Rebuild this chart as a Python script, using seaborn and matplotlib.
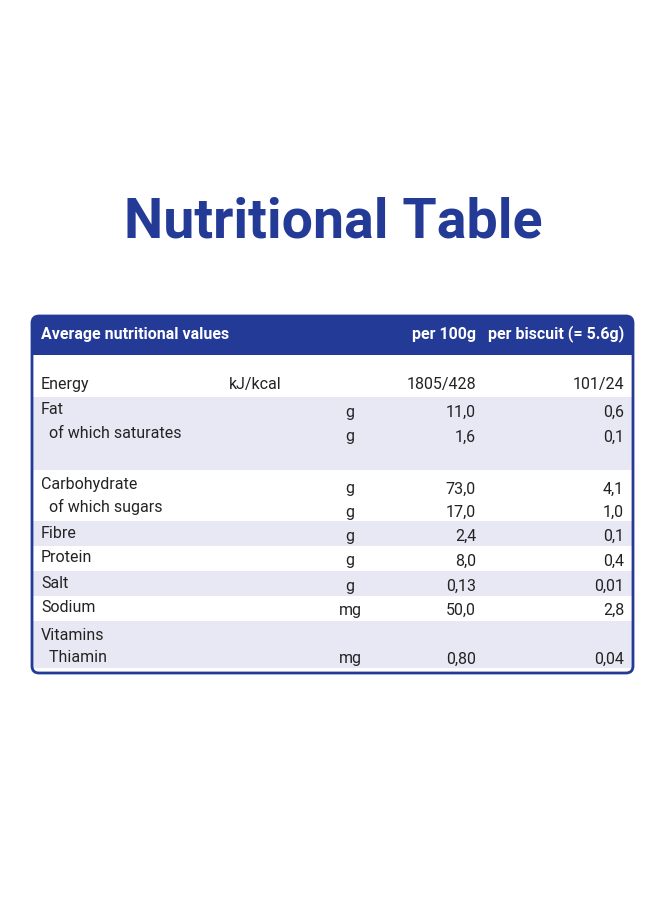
import matplotlib
matplotlib.use("Agg")
import matplotlib.pyplot as plt
from matplotlib import font_manager
from matplotlib.patches import FancyBboxPatch, Rectangle
import seaborn as sns

sns.set_theme(style="white")

names = {f.name for f in font_manager.fontManager.ttflist}
FONT = "Liberation Sans Narrow" if "Liberation Sans Narrow" in names else "Roboto"

labels = ["Energy", "Fat", "  of which saturates", "Carbohydrate", "  of which sugars",
          "Fibre", "Protein", "Salt", "Sodium", "Vitamins", "  Thiamin"]
units = ["kJ/kcal", "g", "g", "g", "g", "g", "g", "g", "mg", "", "mg"]
per_100g = ["1805/428", "11,0", "1,6", "73,0", "17,0", "2,4", "8,0", "0,13", "50,0", "", "0,80"]
per_biscuit = ["101/24", "0,6", "0,1", "4,1", "1,0", "0,1", "0,4", "0,01", "2,8", "", "0,04"]
headers = ["Average nutritional values", "per 100g", "per biscuit (= 5.6g)"]

# layout (pixels)
label_y = [384, 410, 433, 485, 507, 533, 558, 583, 608, 635, 657]
value_y = [384, 412, 437, 489, 512, 536, 561, 586, 610, 635, 659]
bands = [(397, 470), (521, 546), (571, 596), (621, 668)]

BLUE = "#243a97"
SHADE = "#e7e8f4"

fig = plt.figure(figsize=(6.66, 9.08), dpi=100)
ax = fig.add_axes([0, 0, 1, 1])
ax.set_xlim(0, 666); ax.set_ylim(908, 0); ax.axis("off")

ax.text(333, 222, "Nutritional Table", ha="center", va="center", color=BLUE,
        fontsize=40, fontweight="bold", family=FONT)

for y0, y1 in bands:
    ax.add_patch(Rectangle((32, y0), 601, y1 - y0, color=SHADE, lw=0))
ax.add_patch(FancyBboxPatch((32, 316), 601, 39, boxstyle="round,pad=0,rounding_size=7",
                            fc=BLUE, ec="none", lw=0))
ax.add_patch(Rectangle((32, 335), 601, 20, color=BLUE, lw=0))
ax.add_patch(FancyBboxPatch((32, 316), 601, 357, boxstyle="round,pad=0,rounding_size=7",
                            fc="none", ec=BLUE, lw=2))

hkw = dict(va="center", color="white", fontsize=11.5, fontweight="bold", family=FONT)
ax.text(41, 334, headers[0], ha="left", **hkw)
ax.text(476, 334, headers[1], ha="right", **hkw)
ax.text(624, 334, headers[2], ha="right", **hkw)

kw = dict(va="center", color="#222222", fontsize=11.5, family=FONT)
for i, lab in enumerate(labels):
    ax.text(41, label_y[i], lab, ha="left", **kw)
    if units[i] == "kJ/kcal":
        ax.text(229, value_y[i], units[i], ha="left", **kw)
    elif units[i]:
        ax.text(350, value_y[i], units[i], ha="center", **kw)
    ax.text(476, value_y[i], per_100g[i], ha="right", **kw)
    ax.text(624, value_y[i], per_biscuit[i], ha="right", **kw)

fig.savefig("out.png", dpi=100, facecolor="white")
